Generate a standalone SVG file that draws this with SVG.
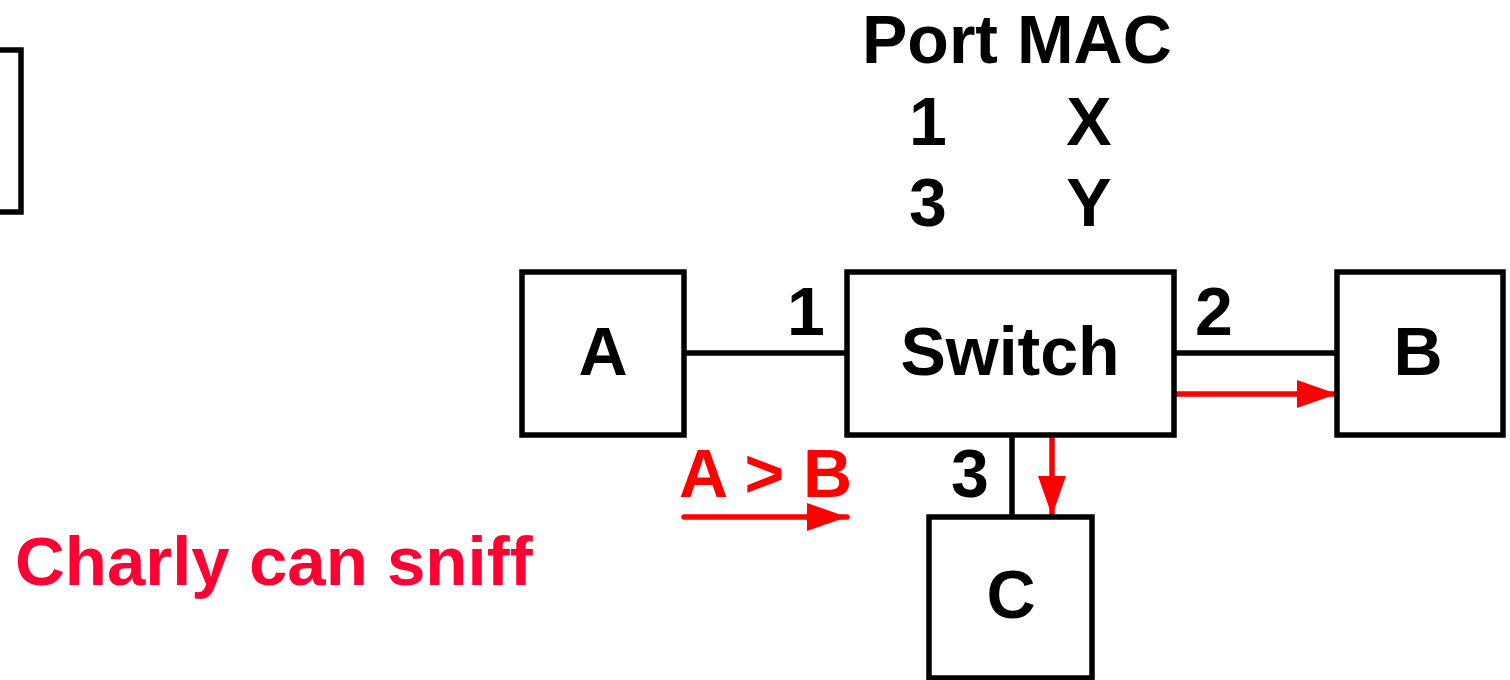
<svg xmlns="http://www.w3.org/2000/svg" width="1510" height="680" viewBox="0 0 1510 680">
<style>
.box{fill:#fff;stroke:#000;stroke-width:5.5}
.t{font-family:"Liberation Sans",Arial,sans-serif;font-weight:bold;font-size:68px;fill:#000}
.c{text-anchor:middle}
.link{stroke:#000;stroke-width:5.5;fill:none}
.red{stroke:#f00;stroke-width:5.5;fill:none;stroke-linecap:round}
</style>
<defs>
<marker id="ah" markerUnits="userSpaceOnUse" markerWidth="40" markerHeight="28" refX="40" refY="14" orient="auto">
<path d="M0,0 L40,14 L0,28 z" fill="#f00"/>
</marker>
</defs>
<rect width="1510" height="680" fill="#fff"/>
<g id="partial"><rect class="box" x="-100" y="50" width="121" height="162"/></g>
<g id="connectors">
<line class="link" x1="684" y1="353" x2="847" y2="353"/>
<line class="link" x1="1174" y1="353" x2="1337" y2="353"/>
<line class="link" x1="1012" y1="434" x2="1012" y2="516"/>
<line class="red" x1="1173" y1="394" x2="1337" y2="394" marker-end="url(#ah)"/>
<line class="red" x1="1052" y1="435" x2="1052" y2="516" marker-end="url(#ah)"/>
<line class="red" x1="684" y1="517" x2="847" y2="517" marker-end="url(#ah)"/>
</g>
<g id="nodeA"><rect class="box" x="522" y="272" width="162" height="163"/><text class="t c" x="603" y="375">A</text></g>
<g id="switch"><rect class="box" x="847" y="272" width="327" height="163"/><text class="t c" x="1010" y="375">Switch</text></g>
<g id="nodeB"><rect class="box" x="1337" y="272" width="166" height="163"/><text class="t c" x="1418" y="375">B</text></g>
<g id="nodeC"><rect class="box" x="929" y="517" width="163" height="161"/><text class="t c" x="1011" y="618">C</text></g>
<g id="table">
<text class="t" x="862" y="63">Port MAC</text>
<text class="t c" x="928" y="145">1</text>
<text class="t c" x="1089" y="145">X</text>
<text class="t c" x="928" y="226">3</text>
<text class="t c" x="1089" y="226">Y</text>
</g>
<g id="labels">
<text class="t c" x="806" y="335">1</text>
<text class="t c" x="1214" y="335">2</text>
<text class="t c" x="970" y="497">3</text>
<text class="t" x="679" y="497" style="fill:#f00">A &gt; B</text>
<text class="t" x="15" y="585" style="fill:#f03;font-size:69px">Charly can sniff</text>
</g>
</svg>
